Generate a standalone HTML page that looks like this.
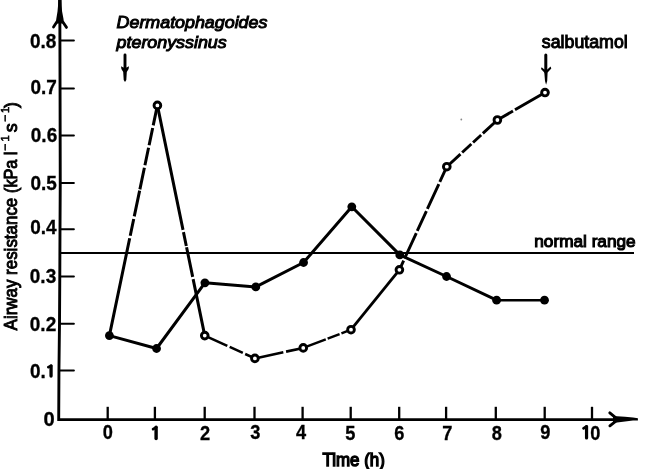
<!DOCTYPE html>
<html><head><meta charset="utf-8"><style>
html,body{margin:0;padding:0;background:#fff;}
svg{display:block;will-change:transform;}
text{font-family:"Liberation Sans",sans-serif;fill:#000;}
.b{font-weight:bold;font-size:19px;}
.r{font-size:18px;stroke:#000;stroke-width:1.2px;}
.i{font-style:italic;font-size:17px;stroke:#000;stroke-width:1.0px;}
.b{stroke:#000;stroke-width:0.3px;}
</style></head><body>
<svg width="646" height="469" viewBox="0 0 646 469">
<polyline points="59.8,-2 60.05,88 60.25,183 60.0,229 59.8,276 59.5,323 58.95,370 58.7,421" fill="none" stroke="#000" stroke-width="2.9" stroke-linejoin="round"/>
<line x1="58.3" y1="419.6" x2="625" y2="419.6" stroke="#000" stroke-width="2.8"/>
<polygon points="58.2,-1 61.5,-1 61.7,6 62.1,11.5 63.6,19.4 62.8,23.6 56.8,23.6 56.2,19.4 57.5,11.5 58.0,6" fill="#000"/>
<path d="M57.4,21 L53.5,27.1 M62.2,21 L66.5,27.4" stroke="#000" stroke-width="2.8" stroke-linecap="round" fill="none"/>
<polygon points="613,416.6 617,416.2 625,416.7 633,417.6 637.9,418.3 637.9,420.6 633,420.6 625,421.4 617,422.6 613,422.2" fill="#000"/>
<path d="M609.8,412.9 L616.5,418.4 M609.9,425.8 L616.5,420.6" stroke="#000" stroke-width="2.9" stroke-linecap="round" fill="none"/>
<line x1="60" y1="40.6" x2="73.9" y2="40.6" stroke="#000" stroke-width="2" stroke-linecap="round"/>
<line x1="60" y1="88.6" x2="73.9" y2="88.6" stroke="#000" stroke-width="2" stroke-linecap="round"/>
<line x1="60" y1="135.4" x2="73.9" y2="135.4" stroke="#000" stroke-width="2" stroke-linecap="round"/>
<line x1="60" y1="183.1" x2="73.9" y2="183.1" stroke="#000" stroke-width="2" stroke-linecap="round"/>
<line x1="60" y1="229.35" x2="73.9" y2="229.35" stroke="#000" stroke-width="2" stroke-linecap="round"/>
<line x1="60" y1="276.6" x2="73.9" y2="276.6" stroke="#000" stroke-width="2" stroke-linecap="round"/>
<line x1="60" y1="323.75" x2="73.9" y2="323.75" stroke="#000" stroke-width="2" stroke-linecap="round"/>
<line x1="60" y1="370.5" x2="73.9" y2="370.5" stroke="#000" stroke-width="2" stroke-linecap="round"/>
<line x1="107.7" y1="406.8" x2="107.7" y2="419" stroke="#000" stroke-width="2.3"/>
<line x1="154.9" y1="406.8" x2="154.9" y2="419" stroke="#000" stroke-width="2.3"/>
<line x1="204.7" y1="406.8" x2="204.7" y2="419" stroke="#000" stroke-width="2.3"/>
<line x1="254.5" y1="406.8" x2="254.5" y2="419" stroke="#000" stroke-width="2.3"/>
<line x1="302.6" y1="406.8" x2="302.6" y2="419" stroke="#000" stroke-width="2.3"/>
<line x1="350.7" y1="406.8" x2="350.7" y2="419" stroke="#000" stroke-width="2.3"/>
<line x1="399.2" y1="406.8" x2="399.2" y2="419" stroke="#000" stroke-width="2.3"/>
<line x1="446.1" y1="406.8" x2="446.1" y2="419" stroke="#000" stroke-width="2.3"/>
<line x1="495.8" y1="406.8" x2="495.8" y2="419" stroke="#000" stroke-width="2.3"/>
<line x1="544.7" y1="406.8" x2="544.7" y2="419" stroke="#000" stroke-width="2.3"/>
<line x1="592" y1="406.8" x2="592" y2="419" stroke="#000" stroke-width="2.3"/>
<line x1="60" y1="252.95" x2="634" y2="252.95" stroke="#000" stroke-width="1.9"/>
<polyline points="109.4,335.6 156.55,348.5 204.9,282.8 255.8,286.9 303.55,262.5 351.8,206.8 399.8,254.9 446.55,276.5 496.6,300.2" fill="none" stroke="#000" stroke-width="3" stroke-linejoin="round"/>
<polyline points="496.6,300.2 544.5,300.2" fill="none" stroke="#000" stroke-width="2.4"/>
<path d="M109.40,335.60L129.69,238.27M130.22,235.73L133.72,218.97M134.25,216.43L139.64,190.59M139.88,189.41L144.39,167.77M144.93,165.23L148.56,147.77M149.10,145.23L152.69,127.97M153.22,125.43L157.40,105.40" fill="none" stroke="#000" stroke-width="3.0"/>
<path d="M157.40,105.40L183.01,229.92M183.46,232.08L186.31,245.96M186.57,247.24L192.68,276.92M193.12,279.08L204.75,335.60" fill="none" stroke="#000" stroke-width="3.0"/>
<path d="M204.75,335.60L227.32,345.86M229.68,346.94L242.82,352.91M245.18,353.98L254.90,358.40" fill="none" stroke="#000" stroke-width="2.6"/>
<path d="M254.90,358.40L283.33,352.23M286.07,351.63L303.25,347.90" fill="none" stroke="#000" stroke-width="2.6"/>
<path d="M303.25,347.90L325.77,339.32M327.63,338.61L339.57,334.06M341.43,333.35L351.00,329.70" fill="none" stroke="#000" stroke-width="2.5"/>
<path d="M351.00,329.70L399.40,269.80" fill="none" stroke="#000" stroke-width="2.8"/>
<path d="M399.40,269.80L403.66,260.54M404.62,258.46L416.30,233.04M417.26,230.96L426.41,211.04M427.37,208.96L438.83,184.04M439.79,181.96L446.80,166.70" fill="none" stroke="#000" stroke-width="2.9"/>
<path d="M446.80,166.70L460.45,154.10M462.15,152.54L471.35,144.04M473.05,142.48L481.15,134.99M482.85,133.43L497.40,120.00" fill="none" stroke="#000" stroke-width="2.9"/>
<path d="M497.40,120.00L513.00,111.00M515.00,109.85L545.00,92.55" fill="none" stroke="#000" stroke-width="2.9"/>
<circle cx="109.4" cy="335.6" r="4.4" fill="#000"/>
<circle cx="156.55" cy="348.5" r="4.4" fill="#000"/>
<circle cx="204.9" cy="282.8" r="4.4" fill="#000"/>
<circle cx="255.8" cy="286.9" r="4.4" fill="#000"/>
<circle cx="303.55" cy="262.5" r="4.4" fill="#000"/>
<circle cx="351.8" cy="206.8" r="4.4" fill="#000"/>
<circle cx="399.8" cy="254.9" r="4.4" fill="#000"/>
<circle cx="446.55" cy="276.5" r="4.4" fill="#000"/>
<circle cx="496.6" cy="300.2" r="4.4" fill="#000"/>
<circle cx="544.5" cy="300.2" r="4.4" fill="#000"/>
<circle cx="157.4" cy="105.4" r="3.35" fill="#fff" stroke="#000" stroke-width="2.9"/>
<circle cx="204.75" cy="335.6" r="3.35" fill="#fff" stroke="#000" stroke-width="2.9"/>
<circle cx="254.9" cy="358.4" r="3.35" fill="#fff" stroke="#000" stroke-width="2.9"/>
<circle cx="303.25" cy="347.9" r="3.35" fill="#fff" stroke="#000" stroke-width="2.9"/>
<circle cx="351.0" cy="329.7" r="3.35" fill="#fff" stroke="#000" stroke-width="2.9"/>
<circle cx="399.4" cy="269.8" r="3.35" fill="#fff" stroke="#000" stroke-width="2.9"/>
<circle cx="446.8" cy="166.7" r="3.35" fill="#fff" stroke="#000" stroke-width="2.9"/>
<circle cx="497.4" cy="120.0" r="3.35" fill="#fff" stroke="#000" stroke-width="2.9"/>
<circle cx="545.0" cy="92.55" r="3.35" fill="#fff" stroke="#000" stroke-width="2.9"/>
<line x1="125.0" y1="55" x2="125.0" y2="70" stroke="#000" stroke-width="2.9" stroke-linecap="round"/>
<polygon points="121.0,66.3 123.3,67.6 126.7,67.6 129.0,66.3 128.6,68.9 126.8,72 126.3,80 125.0,82 123.7,80 123.2,72 121.4,68.9" fill="#000"/>
<line x1="545.8" y1="55" x2="545.8" y2="72" stroke="#000" stroke-width="3.0" stroke-linecap="round"/>
<polygon points="541.6,67.3 544.4,69.6 547.3,69.6 550.6,66.6 551.3,68.4 547.6,72.5 547.2,81 546.1,84.8 545.0,81 544.3,72.5 541.0,69.0" fill="#000"/>
<circle cx="461.3" cy="119.5" r="0.9" fill="#888"/>
<text transform="translate(29.90,48) scale(1,1.03)" class="b">0.8</text>
<text transform="translate(30.50,94) scale(1,1.03)" class="b">0.7</text>
<text transform="translate(30.80,142) scale(1,1.03)" class="b">0.6</text>
<text transform="translate(30.50,190) scale(1,1.03)" class="b">0.5</text>
<text transform="translate(30.20,234) scale(1,1.03)" class="b">0.4</text>
<text transform="translate(29.80,283) scale(1,1.03)" class="b">0.3</text>
<text transform="translate(29.80,331) scale(1,1.03)" class="b">0.2</text>
<text transform="translate(30.00,378) scale(1,1.03)" class="b">0.</text>
<path d="M51.05,365.85L51.05,376.05" stroke="#000" stroke-width="3.3" stroke-linecap="round" fill="none"/>
<path d="M51.05,365.85L48.30,367.20" stroke="#000" stroke-width="2.7" stroke-linecap="round" fill="none"/>
<text transform="translate(43.40,426.30) scale(1.06,1.09)" class="b">0</text>
<text transform="translate(107.70,439) scale(0.96,1.06)" class="b" text-anchor="middle">0</text>
<text transform="translate(205.05,440) scale(0.96,1.06)" class="b" text-anchor="middle">2</text>
<text transform="translate(255.40,439) scale(0.96,1.06)" class="b" text-anchor="middle">3</text>
<text transform="translate(301.05,439) scale(0.96,1.06)" class="b" text-anchor="middle">4</text>
<text transform="translate(350.40,440) scale(0.96,1.06)" class="b" text-anchor="middle">5</text>
<text transform="translate(399.40,440) scale(0.96,1.06)" class="b" text-anchor="middle">6</text>
<text transform="translate(447.20,440) scale(0.96,1.06)" class="b" text-anchor="middle">7</text>
<text transform="translate(496.70,440) scale(0.96,1.06)" class="b" text-anchor="middle">8</text>
<text transform="translate(545.30,439) scale(0.96,1.06)" class="b" text-anchor="middle">9</text>
<path d="M156.1,427.30L156.1,438.50" stroke="#000" stroke-width="3.4" stroke-linecap="round" fill="none"/>
<path d="M156.1,427.30L153.10,429.20" stroke="#000" stroke-width="2.7" stroke-linecap="round" fill="none"/>
<path d="M586.55,426.50L586.55,438.00" stroke="#000" stroke-width="3.2" stroke-linecap="round" fill="none"/>
<path d="M586.55,426.50L583.50,428.40" stroke="#000" stroke-width="2.7" stroke-linecap="round" fill="none"/>
<text transform="translate(595.2,440) scale(0.96,1.09)" class="b" text-anchor="middle">0</text>
<text transform="translate(322.5,465.8) scale(0.94,1)" class="r" style="stroke-width:1.4px">Time (h)</text>
<text transform="translate(534.3,247.3) scale(0.956,0.96)" class="r" style="stroke-width:1.15px">normal range</text>
<text transform="translate(541.8,48) scale(0.988,1)" class="r" style="stroke-width:1.0px">salbutamol</text>
<text transform="translate(116.6,28.3) scale(1.05,1)" class="i">Dermatophagoides</text>
<text transform="translate(116.6,48.3) scale(1.05,1)" class="i">pteronyssinus</text>
<text transform="translate(16.8,330.4) rotate(-90) scale(0.941,1)" class="r" style="stroke-width:0.95px">Airway resistance</text>
<text transform="translate(16.8,193.0) rotate(-90) scale(0.9,1)" class="r" style="stroke-width:0.95px">(kPa l</text>
<text transform="translate(9.100000000000001,151.0) rotate(-90)" class="r" style="font-size:12px;stroke-width:0.6px">−</text>
<text transform="translate(9.100000000000001,141.6) rotate(-90)" class="r" style="font-size:11px;stroke-width:0.6px">1</text>
<text transform="translate(16.8,132.2) rotate(-90)" class="r" style="stroke-width:0.95px">s</text>
<text transform="translate(9.100000000000001,122.0) rotate(-90)" class="r" style="font-size:12px;stroke-width:0.6px">−</text>
<text transform="translate(9.100000000000001,113.0) rotate(-90)" class="r" style="font-size:11px;stroke-width:0.6px">1</text>
<text transform="translate(16.8,107.9) rotate(-90)" class="r" style="stroke-width:0.95px">)</text>
</svg>
</body></html>
